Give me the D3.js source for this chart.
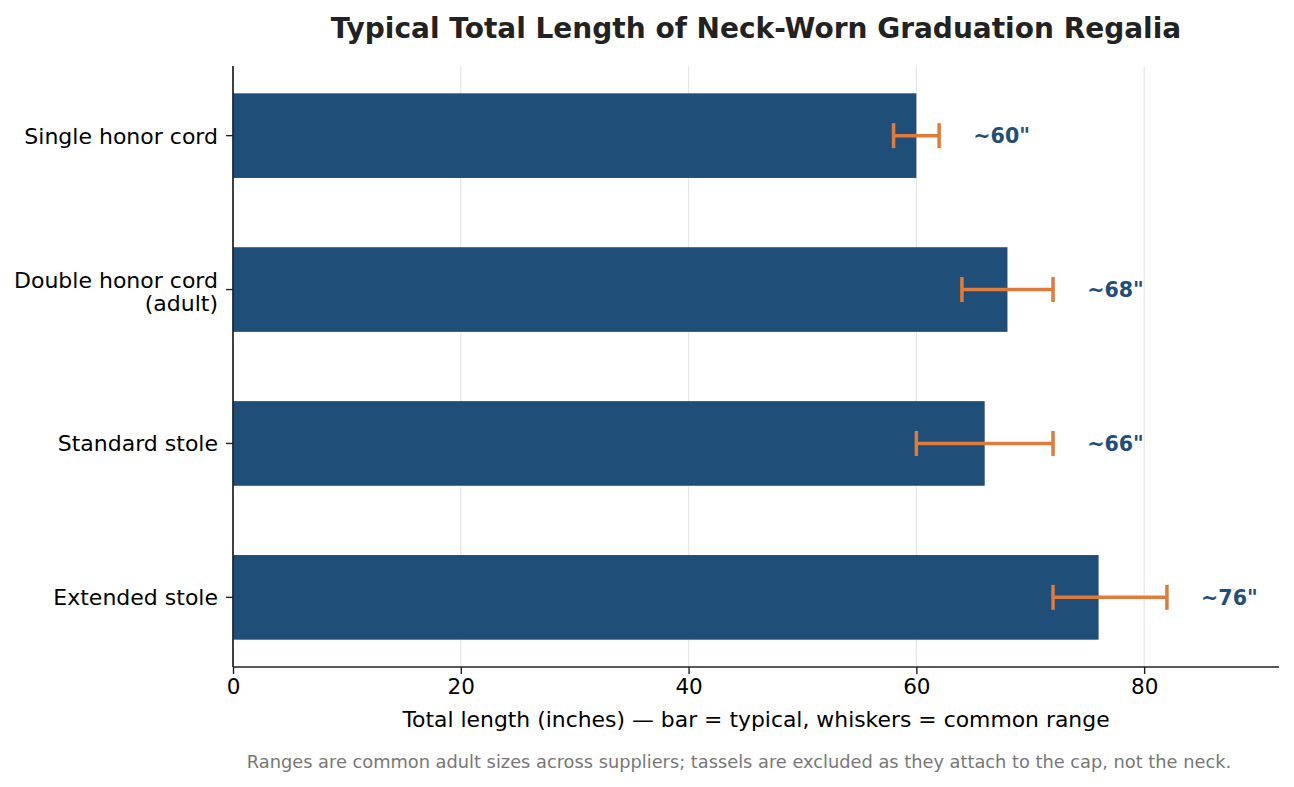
<!DOCTYPE html>
<html>
<head>
<meta charset="utf-8">
<script src="https://cdn.jsdelivr.net/npm/d3@7"></script>
<style>
  body { margin: 0; background: #fff; }
  svg { display: block; font-family: "DejaVu Sans", sans-serif; }
</style>
</head>
<body>
<div id="chart"></div>
<script>
// data
const categories = ["Single honor cord", "Double honor cord\n(adult)", "Standard stole", "Extended stole"];
const typical = [60, 68, 66, 76];
const rangeLow = [58, 64, 60, 72];
const rangeHigh = [62, 72, 72, 82];
const valueLabels = ['~60"', '~68"', '~66"', '~76"'];
const xTicks = [0, 20, 40, 60, 80];

const W = 1294, H = 787;
const m = { top: 66, right: 15, bottom: 120, left: 233 };

const svg = d3.select("#chart").append("svg")
  .attr("width", W)
  .attr("height", H);

const x = d3.scaleLinear()
  .domain([0, d3.max(rangeHigh) * 1.12])
  .range([m.left, W - m.right]);

// matplotlib-style: bars of height 0.55 with 5% margins, first category on top
const barH = 0.55;
const y = d3.scaleLinear()
  .domain([-0.4525, categories.length - 1 + 0.4525])
  .range([m.top, H - m.bottom]);

const navy = "#1f4e79";
const orange = "#e07b39";

// grid
svg.append("g")
  .selectAll("line")
  .data(xTicks)
  .enter()
  .append("line")
  .attr("x1", (d) => x(d))
  .attr("x2", (d) => x(d))
  .attr("y1", m.top)
  .attr("y2", H - m.bottom)
  .attr("stroke", "#e6e6e6")
  .attr("stroke-width", 1.2);

// bars
svg.append("g")
  .selectAll("rect")
  .data(typical)
  .enter()
  .append("rect")
  .attr("x", x(0))
  .attr("y", (d, i) => y(i - barH / 2))
  .attr("width", (d) => x(d) - x(0))
  .attr("height", y(barH) - y(0))
  .attr("fill", navy);

// whiskers
const eb = svg.append("g")
  .attr("stroke", orange)
  .attr("stroke-width", 3.5)
  .attr("fill", "none");

categories.forEach((c, i) => {
  const cy = y(i);
  eb.append("line")
    .attr("x1", x(rangeLow[i]))
    .attr("x2", x(rangeHigh[i]))
    .attr("y1", cy)
    .attr("y2", cy);
  [rangeLow[i], rangeHigh[i]].forEach((v) => {
    eb.append("line")
      .attr("x1", x(v))
      .attr("x2", x(v))
      .attr("y1", cy - 12.5)
      .attr("y2", cy + 12.5);
  });
});

// value labels
svg.append("g")
  .selectAll("text")
  .data(valueLabels)
  .enter()
  .append("text")
  .attr("x", (d, i) => x(rangeHigh[i] + 3))
  .attr("y", (d, i) => y(i))
  .attr("dy", "0.36em")
  .attr("fill", navy)
  .attr("font-size", "20.6px")
  .attr("font-weight", "bold")
  .text((d) => d);

// x axis
const xaxis = d3.axisBottom(x)
  .tickValues(xTicks)
  .tickSize(7)
  .tickPadding(5)
  .tickSizeOuter(0);

const gx = svg.append("g")
  .attr("transform", `translate(0,${H - m.bottom})`)
  .call(xaxis);
gx.select(".domain")
  .attr("d", `M${m.left},0H${W - m.right}`)
  .attr("stroke", "#222")
  .attr("stroke-width", 1.7);
gx.selectAll(".tick line").attr("stroke", "#222").attr("stroke-width", 1.4);
gx.selectAll(".tick text")
  .attr("font-family", "DejaVu Sans, sans-serif")
  .attr("font-size", "21.5px")
  .attr("fill", "#000");

// y axis
const gy = svg.append("g")
  .attr("transform", `translate(${m.left},0)`);
gy.append("line")
  .attr("x1", 0).attr("x2", 0)
  .attr("y1", m.top).attr("y2", H - m.bottom)
  .attr("stroke", "#222")
  .attr("stroke-width", 1.7);

categories.forEach((c, i) => {
  const cy = y(i);
  gy.append("line")
    .attr("x1", -7).attr("x2", 0)
    .attr("y1", cy).attr("y2", cy)
    .attr("stroke", "#222")
    .attr("stroke-width", 1.4);
  const lines = c.split("\n");
  const shift = lines.length > 1 ? 2 : 0;
  const t = gy.append("text")
    .attr("text-anchor", "end")
    .attr("font-size", "22px")
    .attr("fill", "#000");
  lines.forEach((s, k) => {
    t.append("tspan")
      .attr("x", -15)
      .attr("y", cy + shift + (k - (lines.length - 1) / 2) * 23)
      .attr("dy", "0.36em")
      .text(s);
  });
});

// title and notes
svg.append("text")
  .attr("x", (m.left + W - m.right) / 2)
  .attr("y", 38)
  .attr("text-anchor", "middle")
  .attr("font-size", "28px")
  .attr("font-weight", "bold")
  .attr("fill", "#222")
  .text("Typical Total Length of Neck-Worn Graduation Regalia");

svg.append("text")
  .attr("x", (m.left + W - m.right) / 2)
  .attr("y", 727)
  .attr("text-anchor", "middle")
  .attr("font-size", "21.9px")
  .attr("fill", "#000")
  .text("Total length (inches) \u2014 bar = typical, whiskers = common range");

svg.append("text")
  .attr("x", 739)
  .attr("y", 768)
  .attr("text-anchor", "middle")
  .attr("font-size", "17.8px")
  .attr("fill", "#777")
  .text("Ranges are common adult sizes across suppliers; tassels are excluded as they attach to the cap, not the neck.");
</script>
</body>
</html>
